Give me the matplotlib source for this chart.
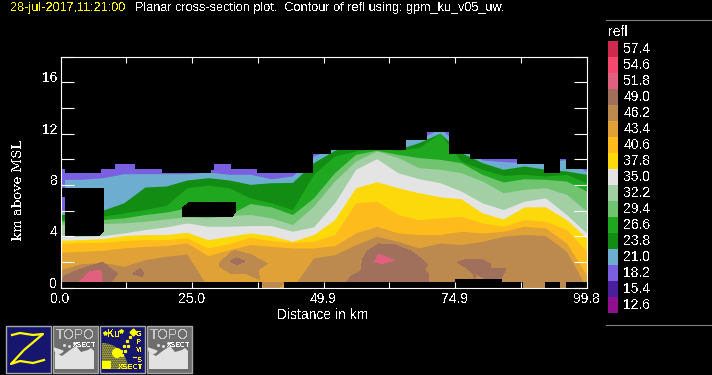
import matplotlib
matplotlib.use("Agg")
import matplotlib.pyplot as plt
from matplotlib.patches import Rectangle, Polygon, Wedge

plt.rcParams['font.family'] = ['Liberation Sans', 'DejaVu Sans']
plt.rcParams['text.antialiased'] = False

# legend of the colour scale (dBZ)
legend_values = ["57.4", "54.6", "51.8", "49.0", "46.2", "43.4", "40.6", "37.8", "35.0",
                 "32.2", "29.4", "26.6", "23.8", "21.0", "18.2", "15.4", "12.6"]
legend_colors = ["#cf2a4c", "#f4486f", "#e0607e", "#a0705c", "#bc8a4e", "#e0a236", "#fdbc1c",
                 "#fcd90a", "#e4e4e4", "#a2d0a4", "#70c470", "#1fa81f", "#128c12", "#6cadd0",
                 "#7a60e0", "#4a1f9c", "#8f0f8f"]

# distance stations along the section (km)
stations = [0, 4, 8, 12, 16, 20, 24, 28, 32, 36, 40, 44, 48, 52, 56, 60, 64, 68, 72, 76, 80, 84,
            88, 92, 96, 99.8]

top_18 = [18.0] * 26
top_21 = [8.44, 8.44, 8.57, 8.88, 8.88, 8.88, 8.88, 9.01, 8.83, 8.83, 8.49, 8.7, 10.26, 10.91,
          11.56, 11.56, 11.56, 11.56, 12.4, 11.0, 9.95, 9.82, 9.74, 9.74, 10.0, 9.04]
top_238 = [5.7, 5.83, 6.04, 6.61, 7.84, 7.92, 8.39, 8.57, 8.39, 8.05, 8.18, 8.2, 9.74, 10.7,
           11.2, 11.2, 10.78, 11.3, 12.03, 10.52, 9.74, 9.22, 9.48, 9.22, 9.09, 8.83]
top_266 = [5.31, 5.57, 5.57, 5.83, 6.09, 6.41, 7.79, 7.99, 7.79, 7.0, 6.61, 6.09, 8.83, 10.26,
           10.65, 10.9, 10.7, 10.91, 12.03, 9.87, 9.22, 8.75, 8.83, 8.7, 8.83, 8.18]
top_294 = [5.18, 5.31, 5.31, 5.44, 5.7, 5.89, 6.22, 6.74, 5.7, 6.56, 6.3, 5.7, 7.0, 8.96,
           10.39, 10.7, 10.39, 10.13, 10.0, 9.74, 8.83, 8.23, 8.49, 8.44, 8.31, 7.53]
top_322 = [4.92, 5.0, 5.0, 5.05, 5.18, 5.36, 5.52, 5.44, 5.63, 5.7, 5.44, 4.92, 6.35, 8.31,
           9.87, 10.65, 10.13, 9.35, 9.22, 8.96, 8.31, 7.4, 7.66, 7.79, 7.27, 5.96]
top_350 = [3.96, 4.01, 4.06, 4.27, 4.53, 4.74, 5.05, 4.79, 4.79, 4.84, 4.84, 4.4, 4.74, 6.61,
           9.22, 10.05, 8.96, 8.49, 8.18, 7.53, 6.61, 6.09, 6.74, 7.0, 5.7, 4.27]
top_378 = [3.7, 3.75, 3.83, 4.06, 4.14, 4.14, 4.32, 3.75, 4.01, 4.27, 4.06, 3.62, 4.14, 5.31,
           7.79, 8.26, 7.79, 7.4, 7.08, 6.93, 5.83, 5.36, 6.3, 6.3, 5.31, 3.88]
top_406 = [3.44, 3.54, 3.54, 3.67, 3.75, 3.75, 3.88, 3.1, 3.44, 3.93, 3.67, 3.54, 3.62, 4.14,
           6.61, 6.74, 5.7, 5.31, 5.44, 5.57, 5.05, 4.79, 5.31, 5.18, 4.53, 2.84]
top_434 = [2.76, 2.84, 2.92, 3.1, 3.23, 3.28, 3.49, 2.5, 2.97, 3.36, 3.23, 3.1, 3.1, 3.28,
           4.27, 4.79, 4.27, 4.14, 4.14, 4.4, 4.27, 4.4, 4.79, 4.66, 3.49, 1.02]
top_462 = [1.41, 1.88, 1.98, 1.67, 2.19, 2.45, 2.63, 0, 0, 0, 0, 0, 2.32, 2.58,
           3.36, 4.01, 3.62, 3.1, 3.49, 3.36, 3.62, 4.01, 4.14, 4.06, 2.84, 0]

# closed cells, (distance, height) outlines in km
tan_cell_x = [30.1, 32.9, 36.1, 39.2, 37.5, 37.8, 35.4, 32.3, 30.1]
tan_cell_z = [1.93, 2.92, 2.58, 1.88, 1.41, 0.63, 1.09, 1.15, 1.67]
tan_foot_x = [38.3, 42.4, 41.5, 38.6]
tan_foot_z = [0.42, 0.42, 0, 0]
brown_a_x = [0.2, 0.6, 4, 8, 10.8, 9.5, 0.2]
brown_a_z = [0.42, 0.89, 1.48, 1.98, 1.09, 0.42, 0.42]
brown_b_x = [13.7, 15.1, 15.8, 15.5]
brown_b_z = [1.09, 1.48, 1.15, 0.89]
brown_c_x = [32.2, 33.4, 35, 33.4]
brown_c_z = [2.06, 2.32, 2.06, 1.8]
brown_d_x = [54.3, 55.1, 57, 57.3, 58.2, 60.4, 63.3, 66.5, 68.7, 69.6, 69, 69.9, 69.9]
brown_d_z = [0.42, 0.89, 1.28, 2.19, 2.84, 3.41, 3.36, 2.84, 2.19, 1.8, 1.41, 1.09, 0.42]
brown_e_x = [75.3, 77.2, 79.7, 81.5, 81.5, 84.5, 83.6, 80.8, 78.9, 78.5, 78.4, 76.6]
brown_e_z = [1.98, 2.24, 2.24, 1.88, 1.54, 1.48, 0.76, 0.68, 1.09, 0.68, 1.09, 1.67]
pink_a_x = [3.5, 5.7, 7.6, 7.9]
pink_a_z = [0.42, 1.28, 1.35, 0.42]
pink_b_x = [59.6, 60.4, 61.4, 63.3, 60.8]
pink_b_z = [2.06, 2.58, 2.45, 2.14, 1.88]

# echo top and bottom, stepped (each height holds until the next distance)
echo_top_x = [0, 0.9, 7.6, 10.3, 14.05, 19.2, 28.6, 29.2, 32.3, 37.3, 47.9, 51.4, 65.5, 69.6,
              73.7, 77.7, 86.7, 91.8, 94.8, 95.9, 99.8]
echo_top_z = [9.22, 8.91, 9.22, 9.61, 9.22, 8.91, 9.2, 9.61, 9.22, 8.91, 10.39, 10.7, 11.48, 12.16,
              10.39, 10.0, 9.61, 8.91, 10.0, 9.22, 9.22]
echo_base_x = [0, 38.3, 42.4, 74.9, 83.7, 87.7, 92, 94.8, 95.9, 99.8]
echo_base_z = [0.42, 0, 0.42, 0.7, 0.42, 0, 0.42, 0, 0.42, 0.42]

# holes in the echo
hole_a_x = [0.9, 8.2, 8.2, 7.3, 0.9]
hole_a_z = [7.73, 7.73, 4.4, 4.06, 4.06]
hole_b_x = [23.1, 24.4, 33.2, 33.2, 32.5, 23.1]
hole_b_z = [6.22, 6.61, 6.61, 5.89, 5.55, 5.55]
hole_c_x = [0, 0.9, 0.9, 0]
hole_c_z = [7.73, 7.73, 7.07, 7.07]
sliver_x = [0, 0.9, 0.9, 0]
sliver_z = [9.2, 9.2, 6.0, 6.0]

x_ticks = [0, 12.475, 24.95, 37.425, 49.9, 62.375, 74.85, 87.325, 99.8]
x_tick_labels = ["0.0", "", "25.0", "", "49.9", "", "74.9", "", "99.8"]
y_ticks = [0, 2, 4, 6, 8, 10, 12, 14, 16, 18]
y_tick_labels = ["0", "", "4", "", "8", "", "12", "", "16", ""]

W, H = 712, 375
NAVY = "#16166e"
YEL = "#ffff00"
fig = plt.figure(figsize=(W / 100, H / 100), dpi=100, facecolor="black")

# overlay in pixel coordinates for everything around the plot
ov = fig.add_axes([0, 0, 1, 1])
ov.set_xlim(0, W)
ov.set_ylim(H, 0)
ov.axis("off")

ov.text(10, 8.5, "28-jul-2017,11:21:00", color=YEL, fontsize=9.1, va="center")
ov.text(135, 8.5, "Planar cross-section plot.  Contour of refl using: gpm_ku_v05_uw.",
        color="white", fontsize=9.1, va="center")
ov.text(323, 315, "Distance in km", color="white", fontsize=10, ha="center", va="center")
ov.text(18.5, 190, "km above MSL", color="white", fontsize=9.5, family="DejaVu Serif",
        rotation=90, ha="center", va="center")

# colour scale
ov.plot([606, 712], [19.5, 19.5], color="#808080", lw=0.8)
ov.plot([606, 712], [324.5, 324.5], color="#808080", lw=0.8)
ov.text(608, 32, "refl", color="white", fontsize=10, va="center")
for i, (val, col) in enumerate(zip(legend_values, legend_colors)):
    ov.add_patch(Rectangle((608, 41 + 16 * i), 10, 16, color=col, lw=0, antialiased=False))
    ov.text(623.5, 49 + 16 * i, val, color="white", fontsize=10, va="center")


def draw_button(x0, bg):
    ov.add_patch(Rectangle((x0 + 0.5, 325.5), 45, 47, facecolor=bg, edgecolor="#a8a8a8", lw=1.0))


def draw_topo(x0):
    draw_button(x0, "#6e6e6e")
    ov.text(x0 + 23, 335, "TOPO", color="#c8c8c8", fontsize=10, ha="center", va="center")
    ov.text(x0 + 33, 345.5, "XSECT", color="white", fontsize=5, weight="bold", ha="center", va="center")
    ov.add_patch(Polygon([(x0 + 3, 369), (x0 + 3, 352), (x0 + 10, 356), (x0 + 14, 353), (x0 + 18, 350),
                          (x0 + 24, 346), (x0 + 29, 352), (x0 + 36, 350), (x0 + 39, 348), (x0 + 42, 351),
                          (x0 + 42, 369)], color="#e2e2e2", lw=0))
    ov.add_patch(Wedge((x0 + 7, 349), 5, 20, 200, color="#e2e2e2", lw=0))
    ov.plot([x0 + 12, x0 + 17, x0 + 22], [345, 346, 343], ls="none", marker="s", ms=1, color="#e2e2e2")


# Z button
draw_button(5, NAVY)
ov.plot([12, 20, 33, 43, 24, 11, 20, 33, 44], [335, 333, 335, 334, 350, 364, 361, 363, 360],
        color=YEL, lw=1.6)

draw_topo(52)

# GPM button
draw_button(99, NAVY)
ov.text(114, 334, "Ku", color=YEL, fontsize=7, weight="bold", ha="center", va="center")
ov.plot([105, 121], [333, 331], ls="none", marker="*", ms=3, color=YEL)
ov.add_patch(Wedge((102, 369), 26, 270, 360, facecolor=NAVY, edgecolor=YEL, hatch="........", lw=0))
ov.add_patch(Rectangle((102, 361), 9, 8, color=YEL, lw=0))
ov.add_patch(Wedge((117, 353), 5, 0, 360, color=YEL, lw=0))
ov.plot([133, 130, 127, 124, 121, 128, 125, 122], [332, 337, 341, 346, 351, 346, 351, 355],
        ls="none", marker="s", ms=1.3, color=YEL)
ov.plot([133], [332], marker="D", ms=3.5, color=YEL)
for yy, ch in zip([335, 343, 350], ["G", "P", "M"]):
    ov.text(139, yy, ch, color=YEL, fontsize=5.5, weight="bold", ha="center", va="center")
ov.text(139, 360, "S", color=YEL, fontsize=5.5, weight="bold", ha="center", va="center")
ov.plot([133, 136], [357, 357], color=YEL, lw=0.8)
ov.text(131, 367.5, "XSECT", color=YEL, fontsize=5.5, weight="bold", ha="center", va="center")

draw_topo(146)

# main plot: x 60.5..586.5, y 56.5..287.8 in pixels
ax = fig.add_axes([60.5 / W, 1 - 287.8 / H, 526 / W, 231.3 / H], facecolor="black")
levels = [(top_18, "#7a60e0"), (top_21, "#6cadd0"), (top_238, "#128c12"), (top_266, "#1fa81f"),
          (top_294, "#70c470"), (top_322, "#a2d0a4"), (top_350, "#e4e4e4"), (top_378, "#fcd90a"),
          (top_406, "#fdbc1c"), (top_434, "#e0a236"), (top_462, "#bc8a4e")]
for heights, col in levels:
    ax.fill_between(stations, 0, heights, color=col, lw=0, antialiased=False)

ax.fill(tan_cell_x, tan_cell_z, color="#bc8a4e", lw=0, antialiased=False)
ax.fill(tan_foot_x, tan_foot_z, color="#bc8a4e", lw=0, antialiased=False)
for xs, zs in [(brown_a_x, brown_a_z), (brown_b_x, brown_b_z), (brown_c_x, brown_c_z),
               (brown_d_x, brown_d_z), (brown_e_x, brown_e_z)]:
    ax.fill(xs, zs, color="#a0705c", lw=0, antialiased=False)
for xs, zs in [(pink_a_x, pink_a_z), (pink_b_x, pink_b_z)]:
    ax.fill(xs, zs, color="#e0607e", lw=0, antialiased=False)

ax.fill(sliver_x, sliver_z, color="#7a60e0", lw=0, antialiased=False)
ax.fill_between(echo_top_x, echo_top_z, 18, step="post", color="black", lw=0, antialiased=False)
ax.fill_between(echo_base_x, 0, echo_base_z, step="post", color="black", lw=0, antialiased=False)
for xs, zs in [(hole_a_x, hole_a_z), (hole_b_x, hole_b_z), (hole_c_x, hole_c_z)]:
    ax.fill(xs, zs, color="black", lw=0, antialiased=False)

ax.set_xlim(0, 99.8)
ax.set_ylim(0, 18)
ax.set_xticks(x_ticks)
ax.set_xticklabels(x_tick_labels)
ax.set_yticks(y_ticks)
ax.set_yticklabels(y_tick_labels)
ax.tick_params(axis="x", direction="in", top=True, length=4.3, width=0.8, color="white",
               labelcolor="white", labelsize=10, pad=3)
ax.tick_params(axis="y", direction="in", right=True, length=9.4, width=0.8, color="white",
               labelcolor="white", labelsize=10, pad=2)
for lab in ax.get_yticklabels():
    lab.set_verticalalignment("baseline")
for sp in ax.spines.values():
    sp.set_color("white")
    sp.set_linewidth(0.8)

fig.savefig("out.png", dpi=100, facecolor="black")
